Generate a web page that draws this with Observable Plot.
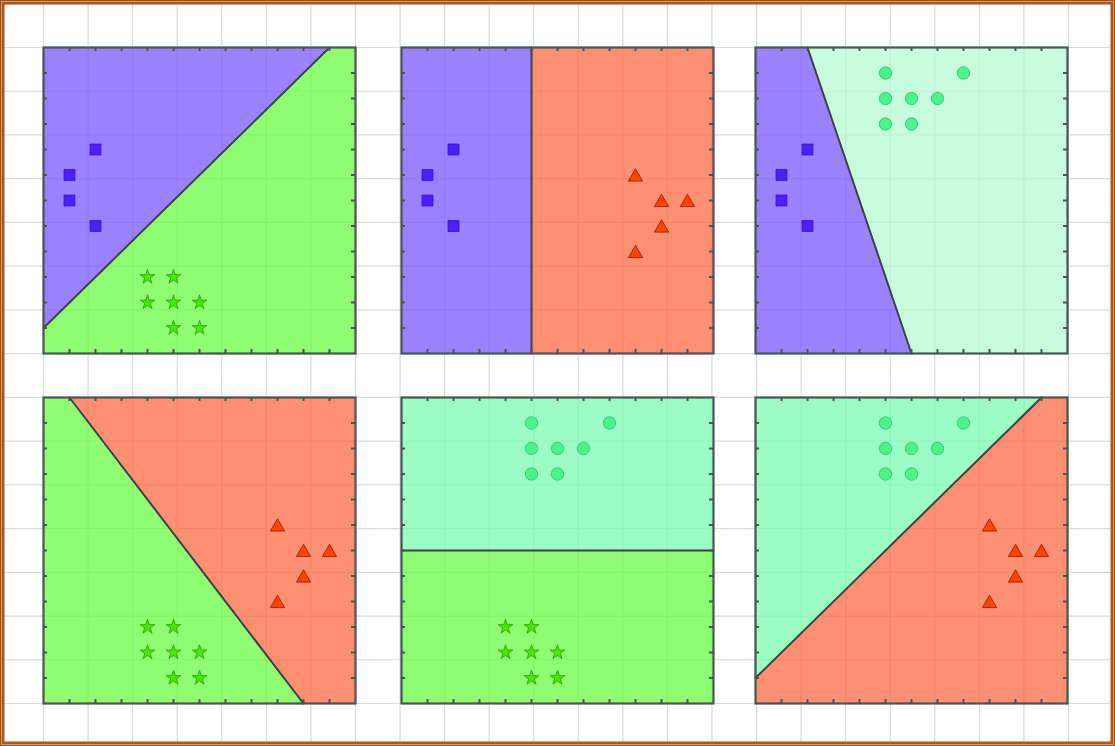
<!DOCTYPE html>
<html>
<head>
<meta charset="utf-8">
<script src="https://cdn.jsdelivr.net/npm/d3@7"></script>
<script src="https://cdn.jsdelivr.net/npm/@observablehq/plot@0.6"></script>
<style>
  html, body { margin: 0; padding: 0; background: #fff; }
  #fig { position: relative; width: 1115px; height: 746px; overflow: hidden; background: #fff; font-family: "DejaVu Sans", sans-serif; }
  .layer { position: absolute; }
  #border { position: absolute; left: 0; top: 0; width: 1115px; height: 746px; box-sizing: border-box;
    border: 1px solid #a24f1a; box-shadow: inset 0 0 0 1px #d99a6a, inset 0 0 0 3.5px #ad571f; pointer-events: none; }
</style>
</head>
<body>
<div id="fig"><div id="border"></div></div>
<script>
// ---------------- data ----------------
const squareX   = [1, 1, 2, 2];
const squareY   = [7, 6, 8, 5];
const starX     = [4, 5, 4, 5, 6, 5, 6];
const starY     = [3, 3, 2, 2, 2, 1, 1];
const triangleX = [9, 10, 11, 10, 9];
const triangleY = [7, 6, 6, 5, 4];
const circleX   = [5, 8, 5, 6, 7, 5, 6];
const circleY   = [11, 11, 10, 10, 10, 9, 9];

// the two classes shown in each panel (row-major order)
const panelClasses = [
  ["square", "star"], ["square", "triangle"], ["square", "circle"],
  ["star", "triangle"], ["circle", "star"], ["circle", "triangle"]
];
// decision boundary of each panel: two points on the frame
const boundaryX1 = [0, 5, 2, 1, 0, 0];
const boundaryY1 = [1, 0, 12, 12, 6, 1];
const boundaryX2 = [11, 5, 6, 10, 12, 11];
const boundaryY2 = [12, 12, 0, 0, 6, 12];

const axisDomain = [0, 12];
const tickValues = [1, 2, 3, 4, 5, 6, 7, 8, 9, 10, 11];
const bgGridX = d3.range(-1, 25);
const bgGridY = d3.range(-1, 17);

// ---------------- styles / layout ----------------
const classData = {
  square:   {xs: squareX,   ys: squareY},
  star:     {xs: starX,     ys: starY},
  triangle: {xs: triangleX, ys: triangleY},
  circle:   {xs: circleX,   ys: circleY}
};
const markerStyle = {
  square:   {symbol: "square",   r: 6.2, fill: "#4a1ffb", stroke: "#3a14c4", dy: 0},
  star:     {symbol: "star",     r: 4.6, fill: "#46ea00", stroke: "#2a9e08", dy: 0},
  triangle: {symbol: "triangle", r: 5.3, fill: "#ff4300", stroke: "#8f1a00", dy: 2},
  circle:   {symbol: "circle",   r: 6.2, fill: "#4af38b", stroke: "#2cc06a", dy: 0}
};
const regionFill = {square: "#7a58fc", star: "#6bfb43", triangle: "#fc6b40", circle: "#7cfbb0"};
const regionFillOverride = {2: {circle: "#b4fbd2"}};
const regionOpacity = 0.75;
const frameColor = "#4a5457";
const gridColor = "#d4dcdc";

const panelLeft = [43, 401, 755, 43, 401, 755];
const panelTop  = [47, 47, 47, 397, 397, 397];
const panelW = 312, panelH = 306, pad = 10;

const fig = document.getElementById("fig");
const border = document.getElementById("border");

// ---------------- background grid ----------------
const bg = Plot.plot({
  width: 1115, height: 746,
  marginLeft: 43, marginRight: 47, marginTop: 47, marginBottom: 43,
  x: {domain: [0, 23], axis: null},
  y: {domain: [0, 15], axis: null},
  style: {background: "transparent", overflow: "visible"},
  marks: [
    Plot.ruleX(bgGridX, {x: d => d, y1: -1.2, y2: 16.2, stroke: gridColor, strokeWidth: 1.2}),
    Plot.ruleY(bgGridY, {y: d => d, x1: -1.2, x2: 24.2, stroke: gridColor, strokeWidth: 1.2})
  ]
});
const bgDiv = document.createElement("div");
bgDiv.className = "layer"; bgDiv.style.left = "0px"; bgDiv.style.top = "0px";
bgDiv.appendChild(bg);
fig.insertBefore(bgDiv, border);

// ---------------- helpers ----------------
function side(p1, p2, q) {
  return (p2[0] - p1[0]) * (q[1] - p1[1]) - (p2[1] - p1[1]) * (q[0] - p1[0]);
}
function clipHalf(poly, p1, p2, sgn) {
  const out = [];
  for (let i = 0; i < poly.length; i++) {
    const a = poly[i], b = poly[(i + 1) % poly.length];
    const sa = sgn * side(p1, p2, a), sb = sgn * side(p1, p2, b);
    if (sa >= 0) out.push(a);
    if ((sa > 0 && sb < 0) || (sa < 0 && sb > 0)) {
      const t = sa / (sa - sb);
      out.push([a[0] + t * (b[0] - a[0]), a[1] + t * (b[1] - a[1])]);
    }
  }
  return out;
}

// ---------------- panels ----------------
panelClasses.forEach((classes, k) => {
  const [lo, hi] = axisDomain;
  const square = [[lo, lo], [hi, lo], [hi, hi], [lo, hi]];
  const p1 = [boundaryX1[k], boundaryY1[k]];
  const p2 = [boundaryX2[k], boundaryY2[k]];
  const first = classData[classes[0]];
  const s0 = Math.sign(side(p1, p2, [first.xs[0], first.ys[0]]));
  const fills = Object.assign({}, regionFill, regionFillOverride[k] || {});

  const regionMarks = classes.map((c, j) => {
    const poly = clipHalf(square, p1, p2, j === 0 ? s0 : -s0);
    poly.push(poly[0]);
    return Plot.line(poly, {x: d => d[0], y: d => d[1], fill: fills[c], fillOpacity: regionOpacity, stroke: "none", curve: "linear"});
  });

  const dotMarks = classes.map(c => {
    const {xs, ys} = classData[c];
    const st = markerStyle[c];
    return Plot.dot(d3.range(xs.length), {
      x: i => xs[i], y: i => ys[i],
      symbol: st.symbol, r: st.r, fill: st.fill, stroke: st.stroke,
      strokeWidth: 1, strokeOpacity: 0.8, dy: st.dy
    });
  });

  const tickLen = 4;
  const plot = Plot.plot({
    width: panelW + 2 * pad, height: panelH + 2 * pad,
    marginLeft: pad, marginRight: pad, marginTop: pad, marginBottom: pad,
    x: {domain: axisDomain, axis: null},
    y: {domain: axisDomain, axis: null},
    style: {background: "transparent", overflow: "visible"},
    marks: [
      ...regionMarks,
      Plot.line([p1, p2], {x: d => d[0], y: d => d[1], stroke: "#3b4347", strokeWidth: 2}),
      Plot.ruleX(tickValues, {x: d => d, insetTop: panelH - tickLen, stroke: frameColor, strokeWidth: 2}),
      Plot.ruleX(tickValues, {x: d => d, insetBottom: panelH - tickLen, stroke: frameColor, strokeWidth: 2}),
      Plot.ruleY(tickValues, {y: d => d, insetRight: panelW - tickLen, stroke: frameColor, strokeWidth: 2}),
      Plot.ruleY(tickValues, {y: d => d, insetLeft: panelW - tickLen, stroke: frameColor, strokeWidth: 2}),
      Plot.frame({stroke: frameColor, strokeWidth: 2.2}),
      ...dotMarks
    ]
  });
  const div = document.createElement("div");
  div.className = "layer";
  div.style.left = (panelLeft[k] - pad) + "px";
  div.style.top = (panelTop[k] - pad) + "px";
  div.appendChild(plot);
  fig.insertBefore(div, border);
});
</script>
</body>
</html>
